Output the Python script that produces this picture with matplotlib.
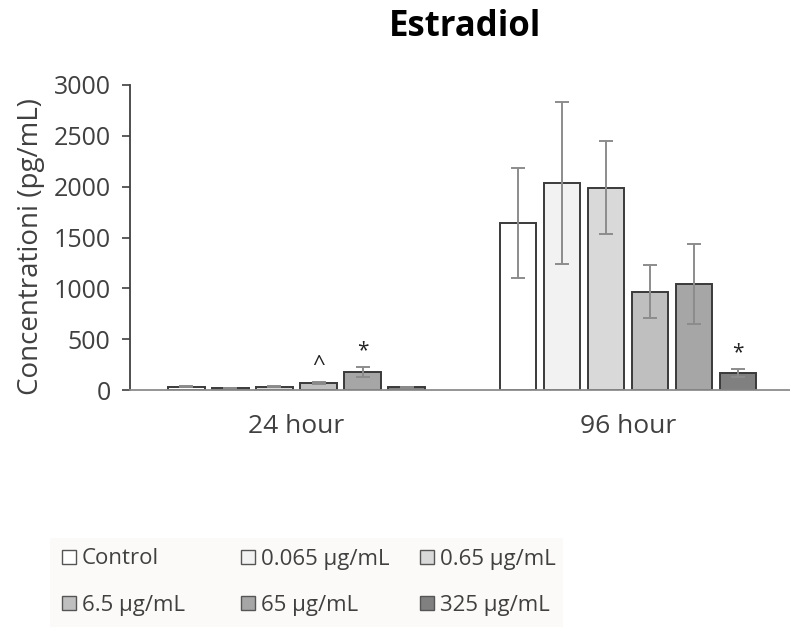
import numpy as np
import matplotlib.pyplot as plt
from matplotlib.patches import Rectangle

plt.rcParams['font.family'] = ['Open Sans', 'DejaVu Sans']

groups = ['24 hour', '96 hour']
doses = ['Control', '0.065 µg/mL', '0.65 µg/mL', '6.5 µg/mL', '65 µg/mL', '325 µg/mL']
fills = ['#ffffff', '#f2f2f2', '#d9d9d9', '#bfbfbf', '#a6a6a6', '#808080']

# mean concentration per dose, one list per time point
conc_24h = [30, 20, 30, 66, 174, 25]
conc_96h = [1640, 2033, 1991, 967, 1040, 164]
err_24h = [5, 3, 5, 10, 50, 4]
err_96h = [540, 795, 460, 263, 394, 40]

# significance marks (group, dose index, symbol)
marks = [(0, 3, '^'), (0, 4, '*'), (1, 5, '*')]

means = np.array([conc_24h, conc_96h])
errs = np.array([err_24h, err_96h])

W, H = 790, 627
fig = plt.figure(figsize=(W / 100, H / 100), dpi=100)
ax = fig.add_axes([130 / W, 1 - 390 / H, 664 / W, 305 / H])

x = np.arange(len(groups))
step = 0.1327
width = 0.109
for i, d in enumerate(doses):
    pos = x + (i - 2.5) * step
    ax.bar(pos, means[:, i], width, color=fills[i], edgecolor='#3a3a3a',
           linewidth=1.4, label=d, zorder=2)
    ax.errorbar(pos, means[:, i], yerr=errs[:, i], fmt='none', ecolor='#8c8c8c',
                elinewidth=1.4, capsize=5, capthick=1.4, zorder=3)

for g, i, s in marks:
    top = means[g, i] + errs[g, i]
    ax.text(x[g] + (i - 2.5) * step, top + 60, s, ha='center', va='bottom',
            fontsize=16 if s == '^' else 15, color='#222222')

ax.set_xlim(-0.502, 1.5)
ax.set_ylim(0, 3000)
ax.set_yticks(np.arange(0, 3001, 500))
ax.set_xticks(x)
ax.set_xticklabels(groups, fontsize=19, color='#404040')
ax.tick_params(axis='x', length=0, pad=17)
ax.tick_params(axis='y', labelsize=18, colors='#404040', length=6, width=1.2,
               direction='out', pad=8)
for s in ['top', 'right']:
    ax.spines[s].set_visible(False)
ax.spines['left'].set_color('#404040')
ax.spines['left'].set_linewidth(1.3)
ax.spines['bottom'].set_color('#8c8c8c')
ax.spines['bottom'].set_linewidth(1.3)
ax.set_ylabel('Concentrationi (pg/mL)', fontsize=20, color='#404040')
ax.yaxis.set_label_coords(-0.128, 0.47)

fig.text(465 / W, 1 - 27 / H, 'Estradiol', ha='center', va='center',
         fontsize=25, fontweight='bold')

# legend: 3 columns x 2 rows, laid out by hand to keep the Excel spacing
fig.patches.append(Rectangle((50 / W, 0), 513 / W, 1 - 538 / H, transform=fig.transFigure,
                             facecolor='#fbfaf8', edgecolor='none', zorder=0))
for i, d in enumerate(doses):
    r, c = divmod(i, 3)
    x0 = 62 + c * 179
    y0 = 557 + r * 46
    fig.patches.append(Rectangle((x0 / W, 1 - (y0 + 7) / H), 14 / W, 14 / H,
                                 transform=fig.transFigure, facecolor=fills[i],
                                 edgecolor='#555555', linewidth=1.0, zorder=2))
    fig.text((x0 + 20) / W, 1 - (y0 + 2) / H, d, ha='left', va='center',
             fontsize=16, color='#404040')

fig.savefig('out.png', dpi=100)
